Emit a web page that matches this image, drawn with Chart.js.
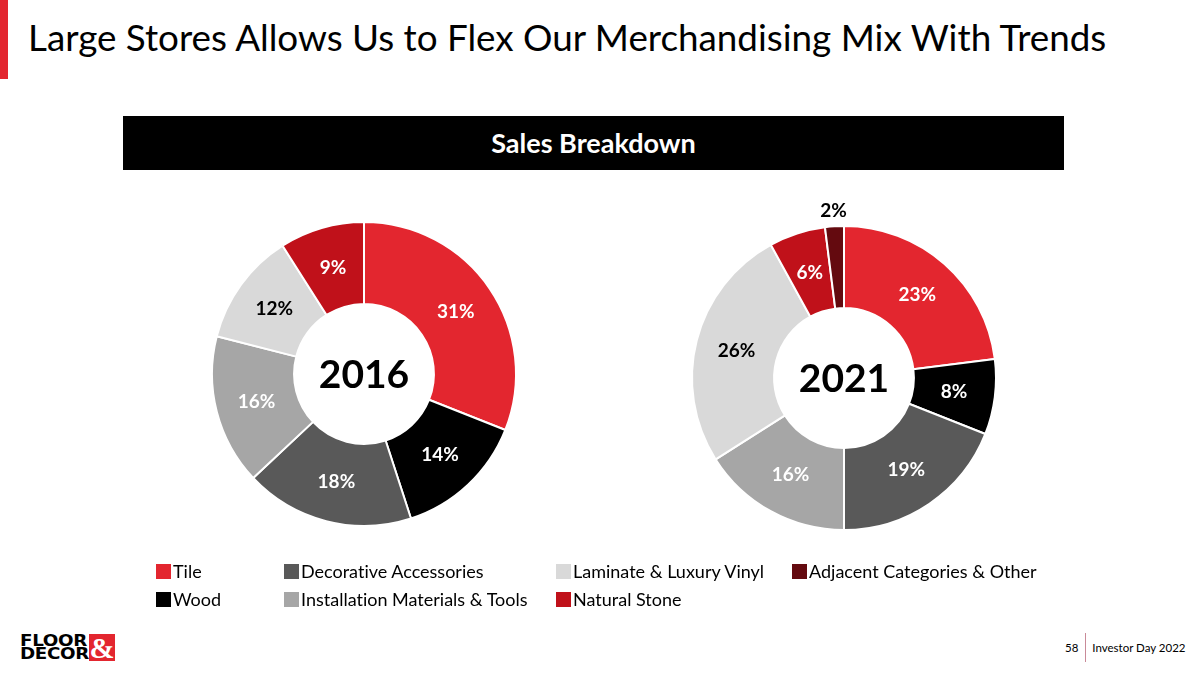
<!DOCTYPE html>
<html>
<head>
<meta charset="utf-8">
<script src="https://cdn.jsdelivr.net/npm/chart.js@4.4.1/dist/chart.umd.min.js"></script>
<style>
  html, body { margin: 0; padding: 0; background: #fff; }
  body { width: 1200px; height: 674px; position: relative; overflow: hidden; font-family: Lato, "Open Sans", sans-serif; color: #000;
         font-variant-ligatures: none; }
  .redbar { position: absolute; left: 0; top: 0; width: 8px; height: 79px; background: #e3262f; }
  h1 { position: absolute; left: 28px; top: 15px; margin: 0; font-weight: 400; font-size: 36.8px; white-space: nowrap; }
  .banner { position: absolute; left: 123px; top: 116px; width: 941px; height: 54px; background: #000; color: #fff;
            font-weight: 700; font-size: 27px; text-align: center; line-height: 54px; }
  .pie { position: absolute; width: 380px; height: 380px; }
  #legend { position: absolute; left: 156px; top: 557px; display: grid; grid-template-columns: 128px 272px 236px auto;
            grid-auto-flow: column; grid-template-rows: 28px 28px; font-size: 18px; }
  .item { display: flex; align-items: center; white-space: nowrap; }
  .box { width: 15px; height: 15px; margin-right: 2px; }
  .logo { position: absolute; left: 20px; top: 634px; width: 96px; height: 28px; }
  .logo .word { position: absolute; left: 0; font-family: "DejaVu Sans", sans-serif; font-weight: 900; font-size: 15px; line-height: 13px;
                letter-spacing: -0.3px; transform: scaleX(1.22); transform-origin: left top; }
  .amp { position: absolute; left: 69px; top: 0; width: 26px; height: 27px; background: #e3262f; color: #fff; overflow: hidden;
         font-family: "Liberation Serif", serif; font-size: 30px; line-height: 28px; text-align: center; font-weight: 700; }
  .footer { position: absolute; left: 1065px; top: 633px; font-size: 11.5px; display: flex; align-items: center; }
  .footer .sep { width: 1px; height: 29px; background: #c98a98; margin: 0 6px 0 7px; }
</style>
</head>
<body>
<div class="redbar"></div>
<h1>Large Stores Allows Us to Flex Our Merchandising Mix With Trends</h1>
<div class="banner">Sales Breakdown</div>
<div class="pie" style="left:174px; top:184px;"><canvas id="pie2016"></canvas></div>
<div class="pie" style="left:654px; top:188px;"><canvas id="pie2021"></canvas></div>
<div id="legend"></div>
<div class="logo"><div class="word" style="top:1px">FLOOR</div><div class="word" style="top:14px">DECOR</div><div class="amp">&amp;</div></div>
<div class="footer"><span>58</span><span class="sep"></span><span>Investor Day 2022</span></div>

<script>
const categories = ['Tile', 'Wood', 'Decorative Accessories', 'Installation Materials & Tools',
                    'Laminate & Luxury Vinyl', 'Natural Stone', 'Adjacent Categories & Other'];
const colors = ['#e3262f', '#000000', '#595959', '#a6a6a6', '#d9d9d9', '#c0111a', '#640a0f'];
const values2016 = [31, 14, 18, 16, 12, 9];
const values2021 = [23, 8, 19, 16, 26, 6, 2];
// legend reads column by column
const legendOrder = [0, 1, 2, 3, 4, 5, 6];

function isLight(hex) {
  const n = parseInt(hex.slice(1), 16);
  const r = n >> 16, g = (n >> 8) & 255, b = n & 255;
  return (0.299 * r + 0.587 * g + 0.114 * b) > 170;
}

const sliceLabels = {
  id: 'sliceLabels',
  afterDatasetsDraw(chart, args, opts) {
    const ctx = chart.ctx;
    const meta = chart.getDatasetMeta(0);
    const data = chart.data.datasets[0].data;
    const bg = chart.data.datasets[0].backgroundColor;
    ctx.save();
    ctx.textAlign = 'center';
    ctx.textBaseline = 'middle';
    ctx.font = 'bold 19px Lato';
    meta.data.forEach((arc, i) => {
      let { x, y } = arc.tooltipPosition();
      ctx.fillStyle = isLight(bg[i]) ? '#000' : '#fff';
      if (data[i] < 3) {
        // too thin to hold its label: put it just outside the ring
        const a = (arc.startAngle + arc.endAngle) / 2;
        const r = arc.outerRadius + 15;
        x = arc.x + Math.cos(a) * r;
        y = arc.y + Math.sin(a) * r;
        ctx.fillStyle = '#000';
      }
      ctx.fillText(data[i] + '%', x, y);
    });
    const c = meta.data[0];
    ctx.fillStyle = '#000';
    ctx.font = 'bold 39px Lato';
    ctx.fillText(opts.year, c.x, c.y + 1);
    ctx.restore();
  }
};

function makePie(id, values, year) {
  return new Chart(document.getElementById(id), {
    type: 'doughnut',
    data: {
      labels: categories.slice(0, values.length),
      datasets: [{
        data: values,
        backgroundColor: colors.slice(0, values.length),
        borderColor: '#ffffff',
        borderWidth: 2,
      }]
    },
    options: {
      responsive: true,
      maintainAspectRatio: false,
      animation: false,
      cutout: '46%',
      layout: { padding: 37 },
      plugins: {
        legend: { display: false },
        tooltip: { enabled: false },
        sliceLabels: { year }
      }
    },
    plugins: [sliceLabels]
  });
}

makePie('pie2016', values2016, '2016');
makePie('pie2021', values2021, '2021');

const legend = document.getElementById('legend');
legendOrder.forEach(i => {
  const item = document.createElement('div');
  item.className = 'item';
  item.innerHTML = `<span class="box" style="background:${colors[i]}"></span><span></span>`;
  item.lastChild.textContent = categories[i];
  legend.appendChild(item);
});
</script>
</body>
</html>
